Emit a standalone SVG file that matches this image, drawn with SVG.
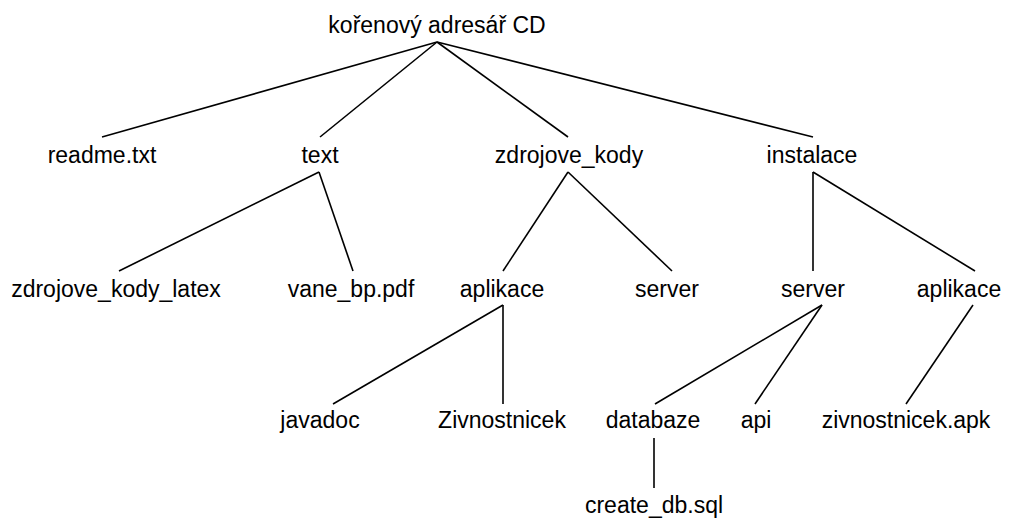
<svg xmlns="http://www.w3.org/2000/svg" width="1016" height="518" viewBox="0 0 1016 518">
<style>
text{font-family:"Liberation Sans",Arial,Helvetica,sans-serif;font-size:23px;fill:#000;text-anchor:middle}
.c line{stroke:#000;stroke-width:1.6;fill:none}
</style>
<rect width="1016" height="518" fill="#fff"/>
<g class="c" id="connectors">
<line x1="437" y1="42" x2="102" y2="137"/>
<line x1="437" y1="42" x2="320" y2="137"/>
<line x1="437" y1="42" x2="568" y2="137"/>
<line x1="437" y1="42" x2="813" y2="137"/>
<line x1="319" y1="172" x2="119" y2="271"/>
<line x1="319" y1="172" x2="353" y2="271"/>
<line x1="568" y1="172" x2="503" y2="271"/>
<line x1="568" y1="172" x2="672" y2="271"/>
<line x1="813" y1="172" x2="813" y2="271"/>
<line x1="813" y1="172" x2="975" y2="271"/>
<line x1="503" y1="305" x2="333" y2="404"/>
<line x1="503" y1="305" x2="503" y2="404"/>
<line x1="822" y1="305" x2="655" y2="404"/>
<line x1="822" y1="305" x2="755" y2="404"/>
<line x1="973" y1="305" x2="906" y2="404"/>
<line x1="654" y1="438" x2="654" y2="488"/>
</g>
<g id="root"><text x="437" y="33">kořenový adresář CD</text></g>
<g id="readme"><text x="102" y="163">readme.txt</text></g>
<g id="text"><text x="320" y="163">text</text></g>
<g id="zdrojove_kody"><text x="569" y="163">zdrojove_kody</text></g>
<g id="instalace"><text x="812" y="163">instalace</text></g>
<g id="zdrojove_kody_latex"><text x="116" y="297">zdrojove_kody_latex</text></g>
<g id="vane_bp"><text x="351" y="297">vane_bp.pdf</text></g>
<g id="aplikace1"><text x="502" y="297">aplikace</text></g>
<g id="server1"><text x="667" y="297">server</text></g>
<g id="server2"><text x="813" y="297">server</text></g>
<g id="aplikace2"><text x="959" y="297">aplikace</text></g>
<g id="javadoc"><text x="320" y="428">javadoc</text></g>
<g id="zivnostnicek"><text x="502" y="428">Zivnostnicek</text></g>
<g id="databaze"><text x="653" y="428">databaze</text></g>
<g id="api"><text x="756" y="428">api</text></g>
<g id="apk"><text x="906" y="428">zivnostnicek.apk</text></g>
<g id="create_db"><text x="654" y="513">create_db.sql</text></g>
</svg>
